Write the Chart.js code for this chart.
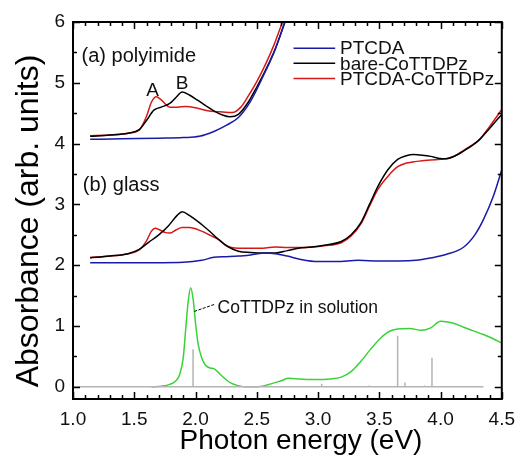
<!DOCTYPE html>
<html>
<head>
<meta charset="utf-8">
<script src="https://cdn.jsdelivr.net/npm/chart.js@4"></script>
<style>
  html, body { margin: 0; padding: 0; background: #fff; }
  #wrap { width: 524px; height: 461px; }
</style>
</head>
<body>
<div id="wrap"><canvas id="absChart" width="524" height="461"></canvas></div>
<script>
// (a) polyimide
const polyPtcdaE = [1.14, 1.4, 1.7, 1.9, 2.03, 2.15, 2.25, 2.35, 2.45, 2.55, 2.65, 2.73];
const polyPtcdaA = [4.07, 4.08, 4.09, 4.10, 4.12, 4.2, 4.3, 4.43, 4.7, 5.1, 5.55, 6.0];
const polyBareE = [1.14, 1.3, 1.45, 1.54, 1.60, 1.66, 1.72, 1.79, 1.85, 1.89, 1.95, 2.02, 2.08, 2.15, 2.22, 2.28, 2.35, 2.43, 2.50, 2.57, 2.65, 2.73];
const polyBareA = [4.12, 4.14, 4.17, 4.23, 4.38, 4.55, 4.6, 4.66, 4.78, 4.85, 4.8, 4.71, 4.63, 4.54, 4.47, 4.44, 4.48, 4.68, 4.93, 5.2, 5.55, 6.0];
const polyHybE = [1.14, 1.3, 1.45, 1.54, 1.60, 1.64, 1.68, 1.72, 1.79, 1.85, 1.92, 2.0, 2.08, 2.15, 2.22, 2.30, 2.37, 2.43, 2.50, 2.57, 2.64, 2.71];
const polyHybA = [4.13, 4.14, 4.17, 4.22, 4.45, 4.68, 4.77, 4.72, 4.6, 4.6, 4.61, 4.59, 4.55, 4.53, 4.52, 4.51, 4.6, 4.78, 5.02, 5.3, 5.62, 6.0];

// (b) glass
const glassPtcdaE = [1.14, 1.5, 1.9, 2.05, 2.15, 2.25, 2.35, 2.45, 2.57, 2.65, 2.75, 2.85, 3.0, 3.15, 3.33, 3.5, 3.65, 3.8, 3.92, 4.05, 4.19, 4.28, 4.35, 4.43, 4.5];
const glassPtcdaA = [2.04, 2.04, 2.05, 2.08, 2.13, 2.14, 2.15, 2.17, 2.2, 2.19, 2.15, 2.1, 2.06, 2.06, 2.08, 2.07, 2.07, 2.08, 2.12, 2.18, 2.3, 2.5, 2.75, 3.13, 3.57];
const glassBareE = [1.14, 1.3, 1.45, 1.54, 1.62, 1.70, 1.78, 1.85, 1.89, 1.95, 2.05, 2.12, 2.19, 2.27, 2.35, 2.45, 2.55, 2.65, 2.75, 2.84, 2.95, 3.05, 3.19, 3.27, 3.35, 3.42, 3.49, 3.57, 3.65, 3.72, 3.78, 3.85, 3.92, 3.98, 4.04, 4.12, 4.19, 4.26, 4.32, 4.4, 4.5];
const glassBareA = [2.12, 2.15, 2.19, 2.26, 2.38, 2.5, 2.65, 2.82, 2.88, 2.82, 2.67, 2.55, 2.42, 2.3, 2.23, 2.21, 2.2, 2.2, 2.24, 2.28, 2.3, 2.33, 2.39, 2.5, 2.7, 3.0, 3.3, 3.57, 3.74, 3.8, 3.82, 3.81, 3.79, 3.76, 3.75, 3.8, 3.88, 3.97, 4.07, 4.25, 4.48];
const glassHybE = [1.14, 1.3, 1.45, 1.54, 1.6, 1.64, 1.67, 1.71, 1.75, 1.79, 1.84, 1.89, 1.95, 2.05, 2.12, 2.19, 2.25, 2.35, 2.45, 2.55, 2.65, 2.75, 2.84, 2.95, 3.05, 3.19, 3.27, 3.35, 3.42, 3.49, 3.57, 3.65, 3.72, 3.78, 3.85, 3.92, 3.98, 4.04, 4.12, 4.19, 4.26, 4.32, 4.4, 4.5];
const glassHybA = [2.13, 2.15, 2.19, 2.25, 2.4, 2.56, 2.61, 2.58, 2.54, 2.53, 2.58, 2.62, 2.62, 2.56, 2.49, 2.42, 2.32, 2.28, 2.28, 2.28, 2.3, 2.29, 2.29, 2.3, 2.32, 2.37, 2.48, 2.68, 2.97, 3.25, 3.46, 3.62, 3.68, 3.7, 3.72, 3.73, 3.74, 3.75, 3.8, 3.89, 3.98, 4.07, 4.28, 4.56];

// CoTTDPz in solution
const solE = [1.64, 1.72, 1.79, 1.84, 1.87, 1.90, 1.92, 1.94, 1.96, 1.98, 2.0, 2.02, 2.05, 2.08, 2.12, 2.15, 2.18, 2.22, 2.29, 2.35, 2.41, 2.5, 2.6, 2.7, 2.76, 2.85, 2.97, 3.1, 3.19, 3.27, 3.35, 3.43, 3.51, 3.58, 3.65, 3.75, 3.84, 3.92, 4.0, 4.1, 4.19, 4.27, 4.35, 4.43, 4.5];
const solA = [0.0, 0.01, 0.04, 0.1, 0.2, 0.48, 0.95, 1.4, 1.63, 1.45, 1.05, 0.72, 0.48, 0.36, 0.31, 0.3, 0.25, 0.17, 0.06, 0.02, 0.0, 0.0, 0.04, 0.1, 0.14, 0.13, 0.12, 0.13, 0.16, 0.25, 0.42, 0.62, 0.8, 0.91, 0.95, 0.96, 0.93, 0.97, 1.08, 1.05, 0.98, 0.92, 0.86, 0.79, 0.72];

// calculated transitions (gray sticks)
const stickE = [1.98, 3.03, 3.42, 3.65, 3.71, 3.87, 3.93];
const stickH = [0.62, 0.05, 0.02, 0.84, 0.07, 0.02, 0.48];
const stickRange = [1.0, 4.35];

const xTicks = [1.0, 1.5, 2.0, 2.5, 3.0, 3.5, 4.0, 4.5];
const yTicks = [0, 1, 2, 3, 4, 5, 6];

const seriesLabels = ['PTCDA', 'bare-CoTTDPz', 'PTCDA-CoTTDPz'];
const BLUE = '#1a1aa8';
const BLACK = '#000000';
const RED = '#d81818';
const GREEN = '#3ad23a';
const FONT = '"Liberation Sans", Arial, sans-serif';

function pts(xs, ys) {
  return xs.map((x, i) => ({ x: x, y: ys[i] }));
}

// baseline + vertical sticks as one polyline
function stickPts() {
  const out = [{ x: stickRange[0], y: 0 }];
  stickE.forEach((e, i) => {
    out.push({ x: e, y: 0 }, { x: e, y: stickH[i] }, { x: e, y: 0 });
  });
  out.push({ x: stickRange[1], y: 0 });
  return out;
}

function curve(label, data, color) {
  return {
    label: label,
    data: data,
    borderColor: color,
    borderWidth: 1.5,
    pointRadius: 0,
    fill: false,
    cubicInterpolationMode: 'monotone'
  };
}

const datasets = [
  curve(seriesLabels[0], pts(polyPtcdaE, polyPtcdaA), BLUE),
  curve(seriesLabels[1], pts(polyBareE, polyBareA), BLACK),
  curve(seriesLabels[2], pts(polyHybE, polyHybA), RED),
  curve(seriesLabels[0], pts(glassPtcdaE, glassPtcdaA), BLUE),
  curve(seriesLabels[1], pts(glassBareE, glassBareA), BLACK),
  curve(seriesLabels[2], pts(glassHybE, glassHybA), RED),
  {
    label: 'sticks',
    data: stickPts(),
    borderColor: '#b4b4b4',
    borderWidth: 1.5,
    pointRadius: 0,
    tension: 0
  },
  curve('CoTTDPz in solution', pts(solE, solA), GREEN)
];

// inward ticks, frame, legend and text labels
const framePlugin = {
  id: 'frame',
  afterDatasetsDraw(chart) {
    const { ctx, chartArea: a, scales: { x, y } } = chart;
    ctx.save();
    ctx.strokeStyle = '#000';
    ctx.lineWidth = 1.5;
    ctx.beginPath();
    for (let i = 0; i <= 35; i++) {
      const v = 1.0 + i * 0.1;
      const px = Math.round(x.getPixelForValue(v)) + 0.5;
      const len = i % 5 === 0 ? 7 : 4;
      ctx.moveTo(px, a.bottom); ctx.lineTo(px, a.bottom - len);
      ctx.moveTo(px, a.top); ctx.lineTo(px, a.top + len);
    }
    for (let i = 0; i <= 12; i++) {
      const v = i * 0.5;
      const py = Math.round(y.getPixelForValue(v)) + 0.5;
      const len = i % 2 === 0 ? 7 : 4;
      ctx.moveTo(a.left, py); ctx.lineTo(a.left + len, py);
      ctx.moveTo(a.right, py); ctx.lineTo(a.right - len, py);
    }
    ctx.stroke();
    ctx.lineWidth = 2;
    ctx.strokeRect(a.left, a.top, a.right - a.left, a.bottom - a.top);

    // legend
    ctx.font = '19px ' + FONT;
    ctx.textBaseline = 'middle';
    ctx.textAlign = 'left';
    const legY = [5.57, 5.32, 5.07];
    [0, 1, 2].forEach(i => {
      const ds = chart.data.datasets[i];
      const py = y.getPixelForValue(legY[i]);
      ctx.strokeStyle = ds.borderColor;
      ctx.lineWidth = 1.5;
      ctx.beginPath();
      ctx.moveTo(x.getPixelForValue(2.80), py);
      ctx.lineTo(x.getPixelForValue(3.14), py);
      ctx.stroke();
      ctx.fillStyle = '#111';
      ctx.fillText(ds.label, x.getPixelForValue(3.18), py + 1);
    });

    // panel labels
    ctx.font = '20px ' + FONT;
    ctx.fillText('(a) polyimide', x.getPixelForValue(1.07), y.getPixelForValue(5.44));
    ctx.fillText('(b) glass', x.getPixelForValue(1.08), y.getPixelForValue(3.31));
    ctx.textAlign = 'center';
    ctx.font = '19px ' + FONT;
    ctx.fillText('A', x.getPixelForValue(1.65), y.getPixelForValue(4.87));
    ctx.fillText('B', x.getPixelForValue(1.89), y.getPixelForValue(4.98));

    // solution annotation with leader line
    ctx.textAlign = 'left';
    ctx.font = '17.5px ' + FONT;
    ctx.fillText('CoTTDPz in solution', x.getPixelForValue(2.18), y.getPixelForValue(1.29));
    ctx.strokeStyle = '#000';
    ctx.lineWidth = 1;
    ctx.setLineDash([3, 1.5]);
    ctx.beginPath();
    ctx.moveTo(x.getPixelForValue(1.99), y.getPixelForValue(1.24));
    ctx.lineTo(x.getPixelForValue(2.16), y.getPixelForValue(1.36));
    ctx.stroke();
    ctx.setLineDash([]);

    // axis titles
    ctx.fillStyle = '#000';
    ctx.font = '28px ' + FONT;
    ctx.textAlign = 'center';
    ctx.fillText('Photon energy (eV)', 301, 441);
    ctx.translate(29, 221);
    ctx.rotate(-Math.PI / 2);
    ctx.font = '32px ' + FONT;
    ctx.fillText('Absorbance (arb. units)', 0, 0);
    ctx.restore();
  }
};

new Chart(document.getElementById('absChart'), {
  type: 'line',
  data: { datasets: datasets },
  options: {
    responsive: false,
    animation: false,
    events: [],
    layout: { padding: { left: 0, right: 19, top: 22, bottom: 0 } },
    plugins: { legend: { display: false }, tooltip: { enabled: false } },
    scales: {
      x: {
        type: 'linear',
        min: 1.0,
        max: 4.5,
        afterFit: s => { s.height = 62; },
        afterBuildTicks: s => { s.ticks = xTicks.map(v => ({ value: v })); },
        grid: { display: false, drawTicks: false },
        border: { display: false },
        ticks: {
          padding: 9,
          color: '#111',
          font: { family: FONT, size: 19 },
          maxRotation: 0,
          callback: v => Number(v).toFixed(1)
        }
      },
      y: {
        type: 'linear',
        min: -0.2,
        max: 6,
        afterFit: s => { s.width = 73; },
        afterBuildTicks: s => { s.ticks = yTicks.map(v => ({ value: v })); },
        grid: { display: false, drawTicks: false },
        border: { display: false },
        ticks: {
          padding: 8,
          color: '#111',
          font: { family: FONT, size: 19 },
          callback: v => String(v)
        }
      }
    }
  },
  plugins: [framePlugin]
});
</script>
</body>
</html>
